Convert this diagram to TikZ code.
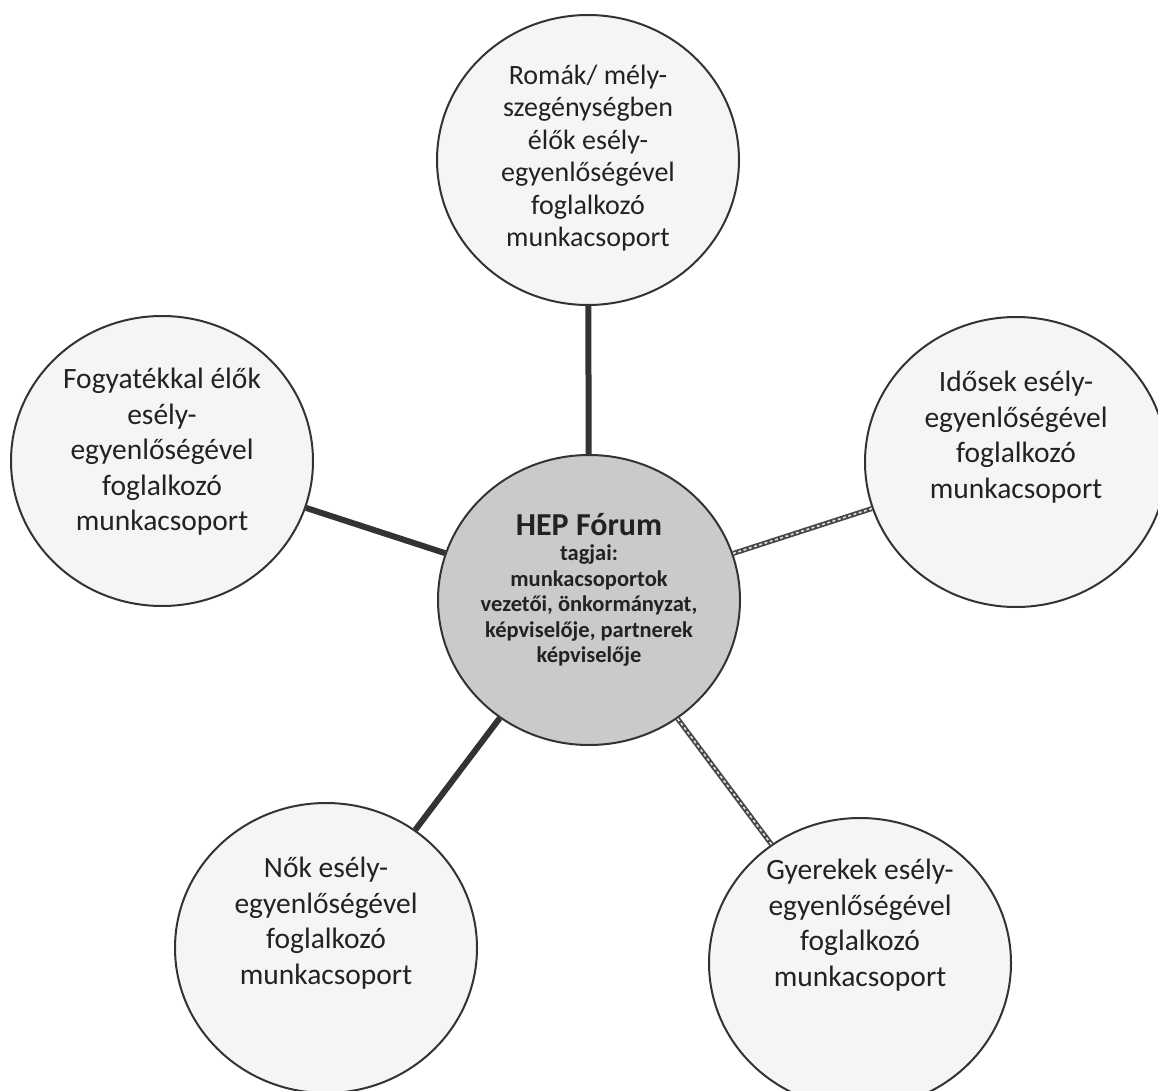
\documentclass[tikz,border=0pt]{standalone}
\usepackage{fontspec}
\setmainfont{Carlito}
\usetikzlibrary{positioning, shapes.geometric}
\definecolor{rim}{HTML}{333333}
\definecolor{ink}{HTML}{222222}
\definecolor{paper}{HTML}{F5F5F5}
\definecolor{hubgray}{HTML}{CACACA}
\tikzset{
    bubble/.style={
        ellipse, draw=rim, line width=2pt, fill=paper,
        minimum width=302pt, minimum height=290pt, inner sep=0pt
    },
    hub/.style={bubble, fill=hubgray},
    bubbletext/.style={
        align=center, text=ink, inner sep=0pt,
        font=\fontsize{29.5}{35.5}\selectfont
    },
    hubtext/.style={
        align=center, text=ink, inner sep=0pt,
        font=\bfseries\fontsize{22.5}{25.5}\selectfont
    },
    link/.style={draw=rim, line width=6pt},
    greylink/.style={draw=rim!90, line width=5pt,
        postaction={draw=white!75!gray, line width=1.6pt, dash pattern=on 3pt off 2.5pt}}
}

\begin{document}
\begin{tikzpicture}[x=1pt, y=-1pt]
\useasboundingbox (0,0) rectangle (1158,1091);

% -- circles ---------------------------------------------------------------
\node[hub]    (forum) at (589,600) {};
\node[bubble] (romak) at (588,160) {};
\node[bubble] (fogy)  at (162,461) {};
\node[bubble] (idos)  at (1016,462) {};
\node[bubble] (nok)   at (326,948) {};
\node[bubble] (gyer)  at (860,963) {};

% -- connectors ------------------------------------------------------------
\draw[link]     (romak) -- (forum);
\draw[link]     (fogy)  -- (forum);
\draw[link]     (nok)   -- (forum);
\draw[greylink] (forum) -- (idos);
\draw[greylink] (forum) -- (gyer);

% -- texts -----------------------------------------------------------------
\node[hubtext] (forumtxt) at ([yshift=10pt]forum.center)
    {{\fontsize{32}{38}\selectfont HEP Fórum}\\tagjai:\\munkacsoportok\\vezetői, önkormányzat,\\képviselője, partnerek\\képviselője};
\node[bubbletext, font=\fontsize{28}{32.5}\selectfont] (romaktxt) at ([yshift=2pt]romak.center)
    {Romák/ mély-\\szegénységben\\élők esély-\\egyenlőségével\\foglalkozó\\munkacsoport};
\node[bubbletext] (fogytxt) at ([yshift=9pt]fogy.center)
    {Fogyatékkal élők\\esély-\\egyenlőségével\\foglalkozó\\munkacsoport};
\node[bubbletext] (idostxt) at ([yshift=25pt]idos.center)
    {Idősek esély-\\egyenlőségével\\foglalkozó\\munkacsoport};
\node[bubbletext] (noktxt) at ([yshift=25pt]nok.center)
    {Nők esély-\\egyenlőségével\\foglalkozó\\munkacsoport};
\node[bubbletext] (gyertxt) at ([yshift=38pt]gyer.center)
    {Gyerekek esély-\\egyenlőségével\\foglalkozó\\munkacsoport};

\end{tikzpicture}
\end{document}
